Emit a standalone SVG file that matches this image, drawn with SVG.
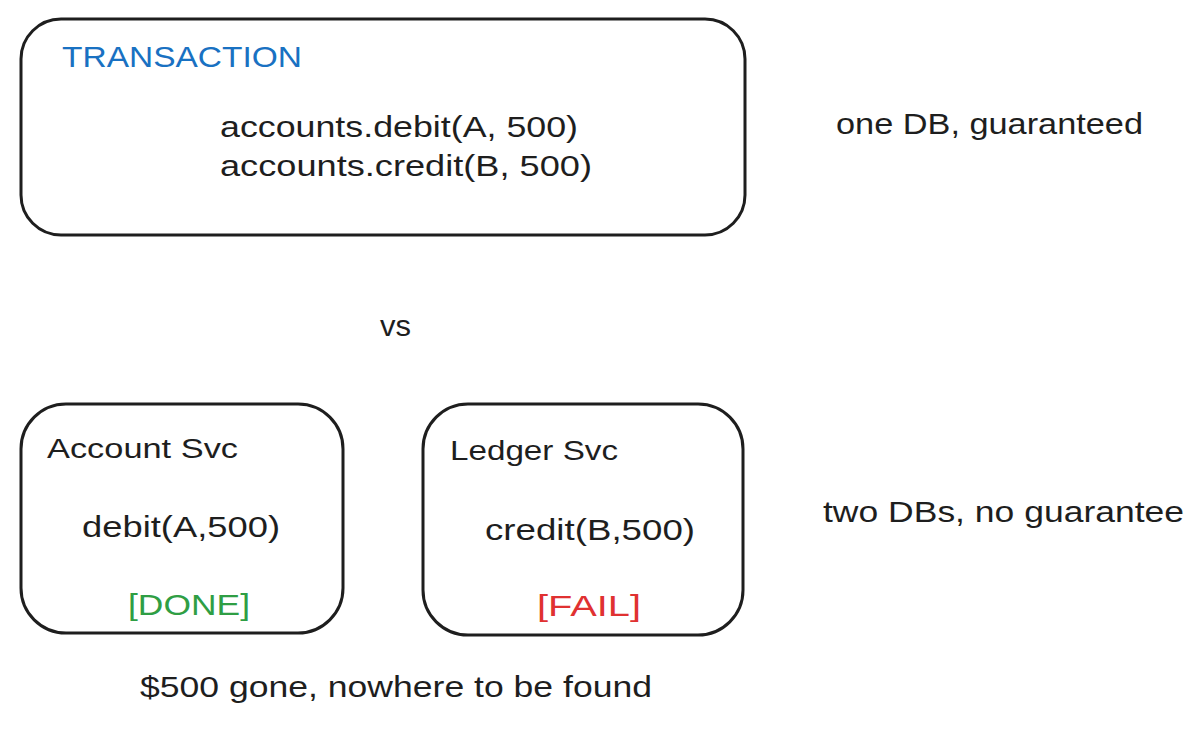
<svg xmlns="http://www.w3.org/2000/svg" width="1204" height="729" viewBox="0 0 1204 729">
<style>
.box{fill:#ffffff;stroke:#1e1e1e;stroke-width:3;}
.t{font-family:"Liberation Sans","Open Sans",sans-serif;fill:#1e1e1e;}
.big{font-size:29px;}
.mid{font-size:27px;}
.blue{fill:#1971c2;}
.green{fill:#2f9e44;}
.red{fill:#e03131;}
</style>
<rect width="1204" height="729" fill="#ffffff"/>
<g id="transaction">
<rect class="box" x="21" y="19" width="724" height="216" rx="40" ry="40"/>
<text class="t big blue" x="62" y="67" textLength="240" lengthAdjust="spacingAndGlyphs">TRANSACTION</text>
<text class="t big" x="220" y="137" textLength="358" lengthAdjust="spacingAndGlyphs">accounts.debit(A, 500)</text>
<text class="t big" x="220" y="176" textLength="372" lengthAdjust="spacingAndGlyphs">accounts.credit(B, 500)</text>
</g>
<g id="note-one-db">
<text class="t big" x="836" y="134" textLength="307" lengthAdjust="spacingAndGlyphs">one DB, guaranteed</text>
</g>
<g id="vs">
<text class="t big" x="380" y="336" textLength="31" lengthAdjust="spacingAndGlyphs">vs</text>
</g>
<g id="account-svc">
<rect class="box" x="21" y="404" width="322" height="229" rx="45" ry="45"/>
<text class="t mid" x="47" y="458" textLength="191" lengthAdjust="spacingAndGlyphs">Account Svc</text>
<text class="t big" x="82" y="537" textLength="198" lengthAdjust="spacingAndGlyphs">debit(A,500)</text>
<text class="t big green" x="128" y="615" textLength="122" lengthAdjust="spacingAndGlyphs">[DONE]</text>
</g>
<g id="ledger-svc">
<rect class="box" x="423" y="404" width="320" height="231" rx="45" ry="45"/>
<text class="t mid" x="450" y="460" textLength="168" lengthAdjust="spacingAndGlyphs">Ledger Svc</text>
<text class="t big" x="485" y="540" textLength="210" lengthAdjust="spacingAndGlyphs">credit(B,500)</text>
<text class="t big red" x="537" y="616" textLength="104" lengthAdjust="spacingAndGlyphs">[FAIL]</text>
</g>
<g id="note-two-dbs">
<text class="t big" x="823" y="522" textLength="361" lengthAdjust="spacingAndGlyphs">two DBs, no guarantee</text>
</g>
<g id="note-gone">
<text class="t big" x="140" y="697" textLength="512" lengthAdjust="spacingAndGlyphs">$500 gone, nowhere to be found</text>
</g>
<g id="connectors"></g>
</svg>
